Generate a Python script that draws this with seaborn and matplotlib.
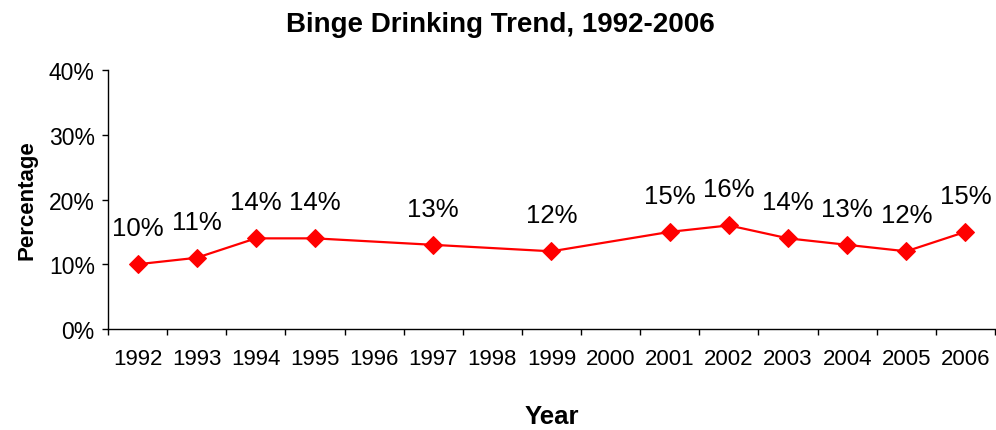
import numpy as np
import matplotlib
matplotlib.use("Agg")
import matplotlib.pyplot as plt
import seaborn as sns

# categories on the x axis (every year gets a slot, even without data)
years = ["1992", "1993", "1994", "1995", "1996", "1997", "1998", "1999",
         "2000", "2001", "2002", "2003", "2004", "2005", "2006"]
# survey years that have a value
data_years = ["1992", "1993", "1994", "1995", "1997", "1999",
              "2001", "2002", "2003", "2004", "2005", "2006"]
binge_pct = [10, 11, 14, 14, 13, 12, 15, 16, 14, 13, 12, 15]
y_ticks = [0, 10, 20, 30, 40]

sns.set_style("white")
plt.rcParams["font.family"] = ["Liberation Sans", "DejaVu Sans"]
plt.rcParams["text.color"] = "black"
plt.rcParams["axes.labelcolor"] = "black"
plt.rcParams["xtick.color"] = "black"
plt.rcParams["ytick.color"] = "black"

fig = plt.figure(figsize=(9.96, 4.31), dpi=100)
ax = fig.add_axes([0.1084, 0.2343, 0.8906, 0.6010])

xpos = [years.index(y) for y in data_years]
sns.lineplot(x=xpos, y=binge_pct, ax=ax, color="#ff0000", linewidth=1.6,
             marker="D", markersize=9, markeredgecolor="#ff0000")

for x, v in zip(xpos, binge_pct):
    ax.annotate(f"{v}%", (x, v), xytext=(0, 26), textcoords="offset points",
                ha="center", va="center", fontsize=18.5, color="black")

ax.set_xlim(-0.5, len(years) - 0.5)
ax.set_ylim(0, 40)
ax.set_yticks(y_ticks)
ax.set_yticklabels([f"{t}%" for t in y_ticks], fontsize=16.5)
ax.set_xticks(range(len(years)))
ax.set_xticklabels(years, fontsize=16)
ax.set_xticks(np.arange(-0.5, len(years)), minor=True)
ax.tick_params(axis="x", which="major", length=0, pad=14, bottom=True)
ax.tick_params(axis="x", which="minor", length=4, width=1, color="black",
               direction="out", bottom=True)
ax.tick_params(axis="y", length=4.5, width=1, color="black", direction="out",
               left=True, pad=5)

sns.despine(ax=ax)
for s in ["left", "bottom"]:
    ax.spines[s].set_color("black")
    ax.spines[s].set_linewidth(1)

ax.set_xlabel("Year", fontsize=18.5, fontweight="bold", labelpad=25)
ax.set_ylabel("Percentage", fontsize=16, fontweight="bold", labelpad=8)
fig.text(500 / 996, 1 - 25 / 431, "Binge Drinking Trend, 1992-2006",
         ha="center", va="center", fontsize=20, fontweight="bold")

fig.savefig("out.png", dpi=100)
